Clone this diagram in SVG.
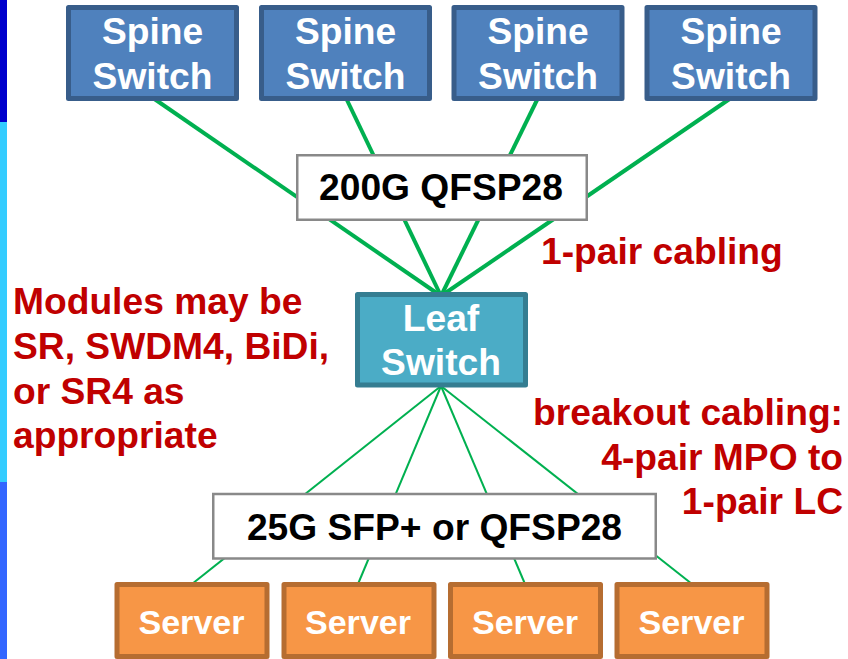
<svg xmlns="http://www.w3.org/2000/svg" width="848" height="659" viewBox="0 0 848 659">
<style>
text{font-family:"Liberation Sans",Arial,sans-serif;font-weight:700;font-size:37.2px}
.n{text-anchor:middle;fill:#fff}
.k{text-anchor:middle;fill:#000}
.r{fill:#C00000}
.e{text-anchor:end}
.spine{fill:#4F81BD;stroke:#385D8A;stroke-width:5;stroke-linejoin:round}
.leaf{fill:#4BACC6;stroke:#357D91;stroke-width:5;stroke-linejoin:round}
.server{fill:#F79646;stroke:#B66D31;stroke-width:5;stroke-linejoin:round}
.mod{fill:#fff;stroke:#898989;stroke-width:2.5}
.thick{stroke:#00B050;stroke-width:4;fill:none}
.thin{stroke:#00B050;stroke-width:2;fill:none}
.srv{font-size:34.1px}
</style>
<g id="band">
<rect x="0" y="0" width="7" height="122" fill="#0000CC"/>
<rect x="0" y="122" width="7" height="360" fill="#33CCFF"/>
<rect x="0" y="482" width="7" height="177" fill="#3366FF"/>
</g>
<g id="connectors">
<line class="thick" x1="153" y1="98" x2="441" y2="296"/>
<line class="thick" x1="346" y1="98" x2="441" y2="296"/>
<line class="thick" x1="538" y1="98" x2="441" y2="296"/>
<line class="thick" x1="731" y1="98" x2="441" y2="296"/>
<line class="thin" x1="441" y1="386" x2="192" y2="584"/>
<line class="thin" x1="441" y1="386" x2="358" y2="584"/>
<line class="thin" x1="441" y1="386" x2="525" y2="584"/>
<line class="thin" x1="441" y1="386" x2="692" y2="584"/>
</g>
<g id="spine1"><rect class="spine" x="68.5" y="7.5" width="168" height="91"/><text class="n" x="152.500" y="44">Spine</text><text class="n" x="152.500" y="88.500">Switch</text></g>
<g id="spine2"><rect class="spine" x="261.500" y="7.5" width="168" height="91"/><text class="n" x="345.500" y="44">Spine</text><text class="n" x="345.500" y="88.500">Switch</text></g>
<g id="spine3"><rect class="spine" x="454" y="7.5" width="168" height="91"/><text class="n" x="538" y="44">Spine</text><text class="n" x="538" y="88.500">Switch</text></g>
<g id="spine4"><rect class="spine" x="647" y="7.5" width="168" height="91"/><text class="n" x="731" y="44">Spine</text><text class="n" x="731" y="88.500">Switch</text></g>
<g id="qsfp200"><rect class="mod" x="297.250" y="155.250" width="289.500" height="64.500"/><text class="k" x="441" y="200">200G QFSP28</text></g>
<g id="leaf"><rect class="leaf" x="357.500" y="294.500" width="168" height="90.500"/><text class="n" x="441" y="330.500">Leaf</text><text class="n" x="441" y="375">Switch</text></g>
<g id="sfp25"><rect class="mod" x="213.250" y="494" width="442.500" height="64.500"/><text class="k" x="434.500" y="540">25G SFP+ or QFSP28</text></g>
<g id="server1"><rect class="server" x="117" y="584.500" width="150" height="72"/><text class="n srv" x="191.500" y="634">Server</text></g>
<g id="server2"><rect class="server" x="284" y="584.500" width="150" height="72"/><text class="n srv" x="358" y="634">Server</text></g>
<g id="server3"><rect class="server" x="450.500" y="584.500" width="150" height="72"/><text class="n srv" x="525" y="634">Server</text></g>
<g id="server4"><rect class="server" x="617" y="584.500" width="150" height="72"/><text class="n srv" x="691.500" y="634">Server</text></g>
<g id="labels">
<text class="r" x="541" y="264">1-pair cabling</text>
<text class="r" x="13" y="313.500">Modules may be</text>
<text class="r" x="13" y="358.500">SR, SWDM4, BiDi,</text>
<text class="r" x="13" y="403.500">or SR4 as</text>
<text class="r" x="13" y="448">appropriate</text>
<text class="r e" x="843" y="424.500">breakout cabling:</text>
<text class="r e" x="843" y="469.500">4-pair MPO to</text>
<text class="r e" x="843" y="513.500">1-pair LC</text>
</g>
</svg>
